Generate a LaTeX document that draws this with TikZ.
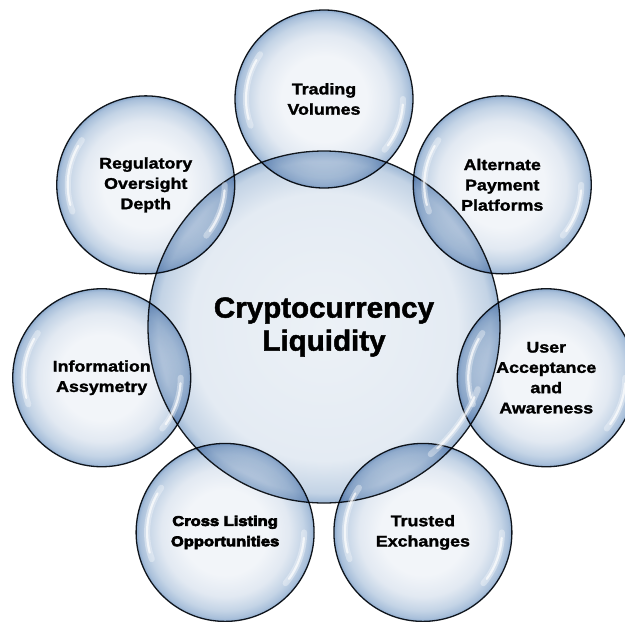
\documentclass[tikz,border=0pt]{standalone}
\usepackage{fontspec}
\usetikzlibrary{calc}
\newfontfamily\bubfont{Liberation Sans Bold}[FakeStretch=1.15,FakeBold=1.6]
\newfontfamily\heavyfont{Liberation Sans Bold}[FakeStretch=1.18,FakeBold=5]
\newfontfamily\hubfont{Liberation Sans Bold}[FakeStretch=1.02,FakeBold=1.6]
\definecolor{bubA}{HTML}{F2F5F9}
\definecolor{bubB}{HTML}{E2E9F2}
\definecolor{bubC}{HTML}{C4D4E6}
\definecolor{bubE}{HTML}{A8BFDA}
\definecolor{bubD}{HTML}{8BA9CC}
\definecolor{hubA}{HTML}{ECF1F6}
\definecolor{hubB}{HTML}{E4EBF3}
\definecolor{hubC}{HTML}{C3D3E5}
\definecolor{hubD}{HTML}{9DB7D5}
\definecolor{rim}{HTML}{151A20}
\pgfdeclareradialshading{bubshade}{\pgfpoint{0bp}{0bp}}{color(0bp)=(bubA); color(12bp)=(bubA); color(18bp)=(bubB); color(22bp)=(bubC); color(24.2bp)=(bubE); color(25bp)=(bubD); color(50bp)=(bubD)}
\pgfdeclareradialshading{hubshade}{\pgfpoint{0bp}{0bp}}{color(0bp)=(hubA); color(19bp)=(hubB); color(23.6bp)=(hubC); color(25bp)=(hubD); color(50bp)=(hubD)}
\tikzset{
  bubble/.style={circle, draw=rim, line width=1.3pt, shading=bubshade, minimum size=178pt,
    inner sep=0pt, outer sep=0pt, align=center, text=black,
    font=\bubfont\fontsize{15.5}{20.3}\selectfont},
  hub/.style={circle, draw=rim, line width=1.3pt, shading=hubshade, minimum size=352pt,
    inner sep=0pt, outer sep=0pt, align=center, text=black,
    font=\hubfont\fontsize{29}{33}\selectfont},
  hiwide/.style={white, line width=6pt, opacity=0.35, line cap=round},
  hithin/.style={white, line width=2.2pt, opacity=0.7, line cap=round}
}
\begin{document}
\begin{tikzpicture}[x=1pt,y=-1pt]
\useasboundingbox (0,0) rectangle (625,622);
\coordinate (c) at (324,327);
\node[hub] (hub) at (c) {Cryptocurrency\\Liquidity};
\begin{scope}[blend mode=multiply]
\node[bubble] (tv) at ($(c)+(90:228pt)$) {Trading\\Volumes};
\node[bubble] (ro) at ($(c)+(141.43:228pt)$) {Regulatory\\Oversight\\Depth};
\node[bubble] (ia) at ($(c)+(192.86:228pt)$) {Information\\Assymetry};
\node[bubble] (cl) at ($(c)+(244.29:228pt)$) {\heavyfont\fontsize{14}{20.3}\selectfont Cross Listing\\\heavyfont\fontsize{14}{20.3}\selectfont Opportunities};
\node[bubble] (te) at ($(c)+(295.71:228pt)$) {Trusted\\Exchanges};
\node[bubble] (ua) at ($(c)+(347.14:228pt)$) {User\\Acceptance\\and\\Awareness};
\node[bubble] (ap) at ($(c)+(38.57:228pt)$) {Alternate\\Payment\\Platforms};
\end{scope}
\foreach \n in {tv,ro,ia,cl,te,ua,ap}{
  \draw[hiwide] ($(\n)+(145:78pt)$) arc[start angle=145, end angle=200, radius=78pt];
  \draw[hithin] ($(\n)+(150:78pt)$) arc[start angle=150, end angle=195, radius=78pt];
  \draw[hiwide] ($(\n)+(-40:79pt)$) arc[start angle=-40, end angle=0, radius=79pt];
  \draw[hithin] ($(\n)+(-36:79pt)$) arc[start angle=-36, end angle=-4, radius=79pt];
}
\draw[hiwide] ($(hub)+(-50:166pt)$) arc[start angle=-50, end angle=-22, radius=166pt];
\draw[hithin] ($(hub)+(-47:166pt)$) arc[start angle=-47, end angle=-25, radius=166pt];
\end{tikzpicture}
\end{document}
